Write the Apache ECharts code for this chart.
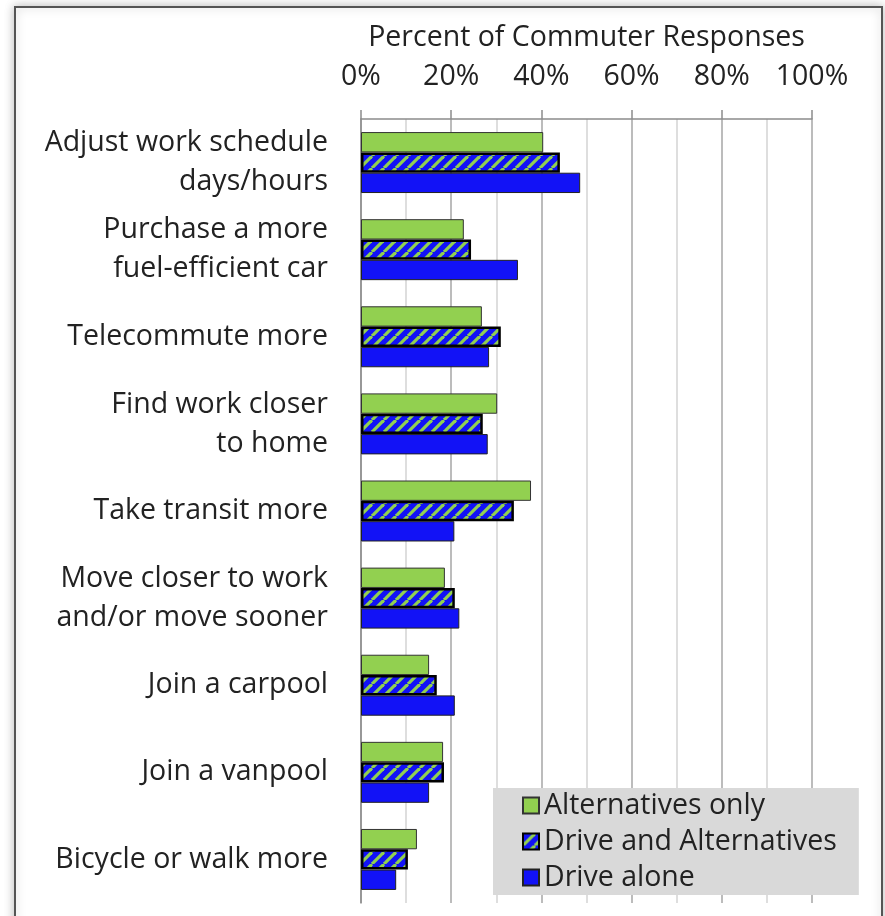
<!DOCTYPE html>
<html>
<head>
<meta charset="utf-8">
<script src="https://cdn.jsdelivr.net/npm/echarts@6/dist/echarts.min.js"></script>
<style>
html,body{margin:0;padding:0;background:#fff;}
#chart{width:885px;height:916px;}
</style>
</head>
<body>
<div id="chart"></div>
<script>
var categories = [
  'Adjust work schedule\ndays/hours',
  'Purchase a more\nfuel-efficient car',
  'Telecommute more',
  'Find work closer\nto home',
  'Take transit more',
  'Move closer to work\nand/or move sooner',
  'Join a carpool',
  'Join a vanpool',
  'Bicycle or walk more'
];
var alternativesOnly = [40.4, 22.8, 26.8, 30.2, 37.7, 18.6, 15.1, 18.2, 12.4];
var driveAndAlternatives = [44.1, 24.4, 31.0, 27.0, 33.9, 20.8, 16.8, 18.4, 10.4];
var driveAlone = [48.6, 34.8, 28.4, 28.1, 20.7, 21.8, 20.8, 15.1, 7.8];
var seriesNames = ['Alternatives only', 'Drive and Alternatives', 'Drive alone'];
var axisTitle = 'Percent of Commuter Responses';

var GREEN = '#92d050';
var BLUE = '#1212f6';
var FONT = 'Open Sans';
var FS = 28.5;

var pat = document.createElement('canvas');
pat.width = 12; pat.height = 12;
var pc = pat.getContext('2d');
pc.fillStyle = BLUE;
pc.fillRect(0, 0, 12, 12);
pc.strokeStyle = GREEN;
pc.lineWidth = 3.2;
for (var k = -1; k <= 1; k++) {
  pc.beginPath();
  pc.moveTo(k * 12, 12);
  pc.lineTo(k * 12 + 12, 0);
  pc.stroke();
}

var chart = echarts.init(document.getElementById('chart'), null, {renderer: 'canvas'});
chart.setOption({
  animation: false,
  backgroundColor: '#ffffff',
  textStyle: {fontFamily: FONT},
  graphic: [{
    type: 'rect',
    z: -10,
    silent: true,
    shape: {x: 15, y: 7, width: 867, height: 930},
    style: {fill: '#ffffff', stroke: '#555555', lineWidth: 2,
      shadowBlur: 10, shadowColor: 'rgba(0,0,0,0.25)'}
  }],
  grid: {left: 361, right: 73, top: 119, bottom: 13, containLabel: false},
  xAxis: {
    type: 'value',
    position: 'top',
    min: 0, max: 100, interval: 20,
    name: axisTitle,
    nameLocation: 'middle',
    nameGap: 67,
    nameTextStyle: {fontSize: FS, color: '#222', fontFamily: FONT},
    axisLabel: {formatter: '{value}%', fontSize: FS, color: '#222', margin: 28, fontFamily: FONT},
    axisLine: {show: true, lineStyle: {color: '#8c8c8c', width: 1.5}},
    axisTick: {show: true, inside: false, length: 9, lineStyle: {color: '#8c8c8c', width: 1.5}},
    splitLine: {show: true, lineStyle: {color: '#a6a6a6', width: 1.5}},
    minorTick: {show: false, splitNumber: 2},
    minorSplitLine: {show: true, lineStyle: {color: '#d4d4d4', width: 1.5}}
  },
  yAxis: {
    type: 'category',
    inverse: true,
    data: categories,
    axisLine: {show: true, lineStyle: {color: '#8c8c8c', width: 1.5}},
    axisTick: {show: false},
    axisLabel: {fontSize: FS, lineHeight: 39, color: '#222', margin: 33, fontFamily: FONT}
  },
  legend: {
    orient: 'vertical',
    left: 493, top: 788,
    backgroundColor: '#d9d9d9',
    borderRadius: 0,
    padding: [3, 22, 3, 29],
    itemGap: 7,
    itemWidth: 16, itemHeight: 16,
    icon: 'rect',
    textStyle: {fontSize: FS, lineHeight: 28.5, color: '#222', fontFamily: FONT},
    data: seriesNames
  },
  series: [
    {
      name: seriesNames[0], type: 'bar', data: alternativesOnly,
      barGap: '0%', barCategoryGap: '30%',
      itemStyle: {color: GREEN, borderColor: '#333', borderWidth: 1}
    },
    {
      name: seriesNames[1], type: 'bar', data: driveAndAlternatives,
      barGap: '0%', barCategoryGap: '30%',
      itemStyle: {color: {image: pat, repeat: 'repeat'}, borderColor: '#000', borderWidth: 2.5}
    },
    {
      name: seriesNames[2], type: 'bar', data: driveAlone,
      barGap: '0%', barCategoryGap: '30%',
      itemStyle: {color: BLUE, borderColor: '#222', borderWidth: 1}
    }
  ]
});
</script>
</body>
</html>
